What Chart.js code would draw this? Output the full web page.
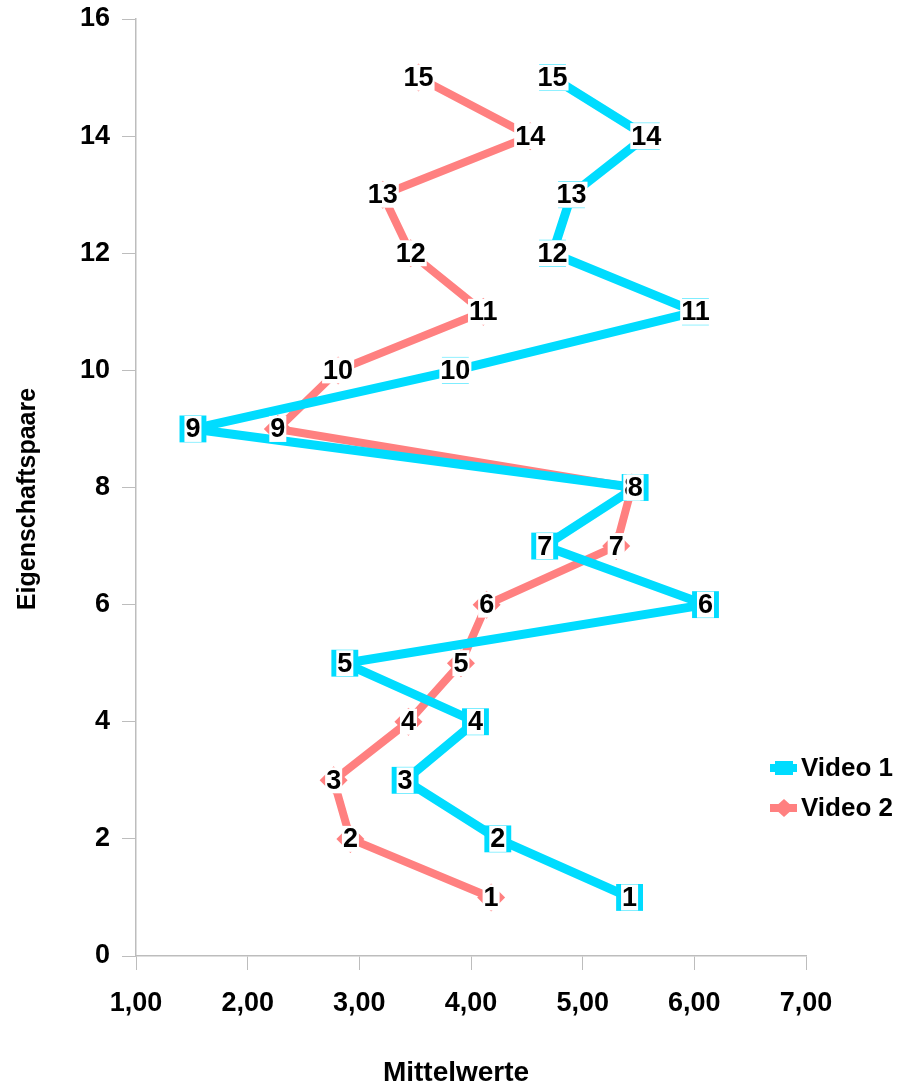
<!DOCTYPE html>
<html>
<head>
<meta charset="utf-8">
<script src="https://cdn.jsdelivr.net/npm/chart.js@4/dist/chart.umd.min.js"></script>
<style>
  html, body { margin: 0; padding: 0; background: #fff; }
  canvas { display: block; }
</style>
</head>
<body>
<canvas id="meanChart" width="905" height="1088"></canvas>
<script>
// Eigenschaftspaare 1..15 and the mean rating of each pair per video
const pairs = [1, 2, 3, 4, 5, 6, 7, 8, 9, 10, 11, 12, 13, 14, 15];
const video1 = [5.42, 4.24, 3.41, 4.04, 2.87, 6.10, 4.66, 5.47, 1.51, 3.86, 6.01, 4.73, 4.90, 5.57, 4.73];
const video2 = [4.18, 2.92, 2.77, 3.44, 3.91, 4.14, 5.30, 5.44, 2.27, 2.81, 4.11, 3.46, 3.21, 4.53, 3.53];
const seriesNames = ["Video 1", "Video 2"];
const xTickLabels = ["1,00", "2,00", "3,00", "4,00", "5,00", "6,00", "7,00"];
const yTickLabels = ["0", "2", "4", "6", "8", "10", "12", "14", "16"];

const CYAN = "#00dcff";
const SALMON = "#ff8080";
const FONT = '"Liberation Sans", Arial, Helvetica, sans-serif';

function toPoints(values) {
    return values.map((v, i) => ({ x: v, y: pairs[i] }));
}

// number labels with a white box on top of every point
const pointLabels = {
    id: "pointLabels",
    afterDatasetsDraw(chart) {
        const ctx = chart.ctx;
        ctx.save();
        ctx.font = "bold 27px " + FONT;
        ctx.textAlign = "center";
        ctx.textBaseline = "middle";
        for (let i = chart.data.datasets.length - 1; i >= 0; i--) {
            const meta = chart.getDatasetMeta(i);
            meta.data.forEach((pt, j) => {
                const text = String(pairs[j]);
                const w = ctx.measureText(text).width + 2;
                ctx.fillStyle = "#fff";
                ctx.fillRect(pt.x - w / 2, pt.y - 13, w, 26);
                ctx.fillStyle = "#000";
                ctx.fillText(text, pt.x, pt.y + 1);
            });
        }
        ctx.restore();
    }
};

// axis titles and the legend on the right
const extras = {
    id: "extras",
    afterDraw(chart) {
        const ctx = chart.ctx;
        ctx.save();
        ctx.fillStyle = "#000";
        ctx.textBaseline = "middle";

        ctx.font = "bold 28px " + FONT;
        ctx.textAlign = "center";
        ctx.fillText("Mittelwerte", 456, 1073);

        ctx.save();
        ctx.translate(28, 499);
        ctx.rotate(-Math.PI / 2);
        ctx.font = "bold 25px " + FONT;
        ctx.fillText("Eigenschaftspaare", 0, 0);
        ctx.restore();

        chart.data.datasets.forEach((ds, i) => {
            const y = 768 + i * 40;
            ctx.strokeStyle = ds.borderColor;
            ctx.lineWidth = 8;
            ctx.beginPath();
            ctx.moveTo(770, y);
            ctx.lineTo(797, y);
            ctx.stroke();
            ctx.fillStyle = ds.borderColor;
            if (ds.pointStyle === "rect") {
                ctx.fillRect(775, y - 7, 18, 14);
            } else {
                ctx.beginPath();
                ctx.moveTo(784, y - 9);
                ctx.lineTo(794, y);
                ctx.lineTo(784, y + 9);
                ctx.lineTo(774, y);
                ctx.closePath();
                ctx.fill();
            }
            ctx.fillStyle = "#000";
            ctx.textAlign = "left";
            ctx.font = "bold 26px " + FONT;
            ctx.fillText(ds.label, 801, y + 1);
        });
        ctx.restore();
    }
};

const tickFont = { family: FONT, size: 27, weight: "bold" };
const axisGrid = { drawOnChartArea: false, drawTicks: true, tickLength: 14, color: "#bdbdbd" };

const ctx = document.getElementById("meanChart").getContext("2d");
new Chart(ctx, {
    type: "scatter",
    data: {
        datasets: [
            {
                label: seriesNames[0],
                data: toPoints(video1),
                showLine: true,
                borderColor: CYAN,
                backgroundColor: CYAN,
                borderWidth: 9,
                borderJoinStyle: "bevel",
                pointStyle: "rect",
                pointRadius: 19,
                pointBorderWidth: 0,
                pointBackgroundColor: CYAN
            },
            {
                label: seriesNames[1],
                data: toPoints(video2),
                showLine: true,
                borderColor: SALMON,
                backgroundColor: SALMON,
                borderWidth: 8,
                borderJoinStyle: "bevel",
                pointStyle: "rectRot",
                pointRadius: 14,
                pointBorderWidth: 0,
                pointBackgroundColor: SALMON
            }
        ]
    },
    options: {
        responsive: false,
        animation: false,
        layout: { padding: { top: 18, right: 99, left: 0, bottom: 0 } },
        plugins: {
            legend: { display: false },
            tooltip: { enabled: false }
        },
        scales: {
            x: {
                type: "linear",
                min: 1,
                max: 7,
                ticks: {
                    stepSize: 1,
                    color: "#000",
                    font: tickFont,
                    padding: 17,
                    callback: (v) => xTickLabels[Math.round(v) - 1]
                },
                grid: axisGrid,
                border: { color: "#bdbdbd", width: 1.5 },
                afterFit: (s) => {
                    s.height = 132;
                    s.paddingLeft = 0;
                    s.paddingRight = 0;
                }
            },
            y: {
                type: "linear",
                min: 0,
                max: 16,
                ticks: {
                    stepSize: 2,
                    color: "#000",
                    font: tickFont,
                    padding: 12,
                    callback: (v) => yTickLabels[Math.round(v / 2)]
                },
                grid: axisGrid,
                border: { color: "#bdbdbd", width: 1.5 },
                afterFit: (s) => {
                    s.width = 136;
                    s.paddingTop = 0;
                    s.paddingBottom = 0;
                }
            }
        }
    },
    plugins: [pointLabels, extras]
});
</script>
</body>
</html>
